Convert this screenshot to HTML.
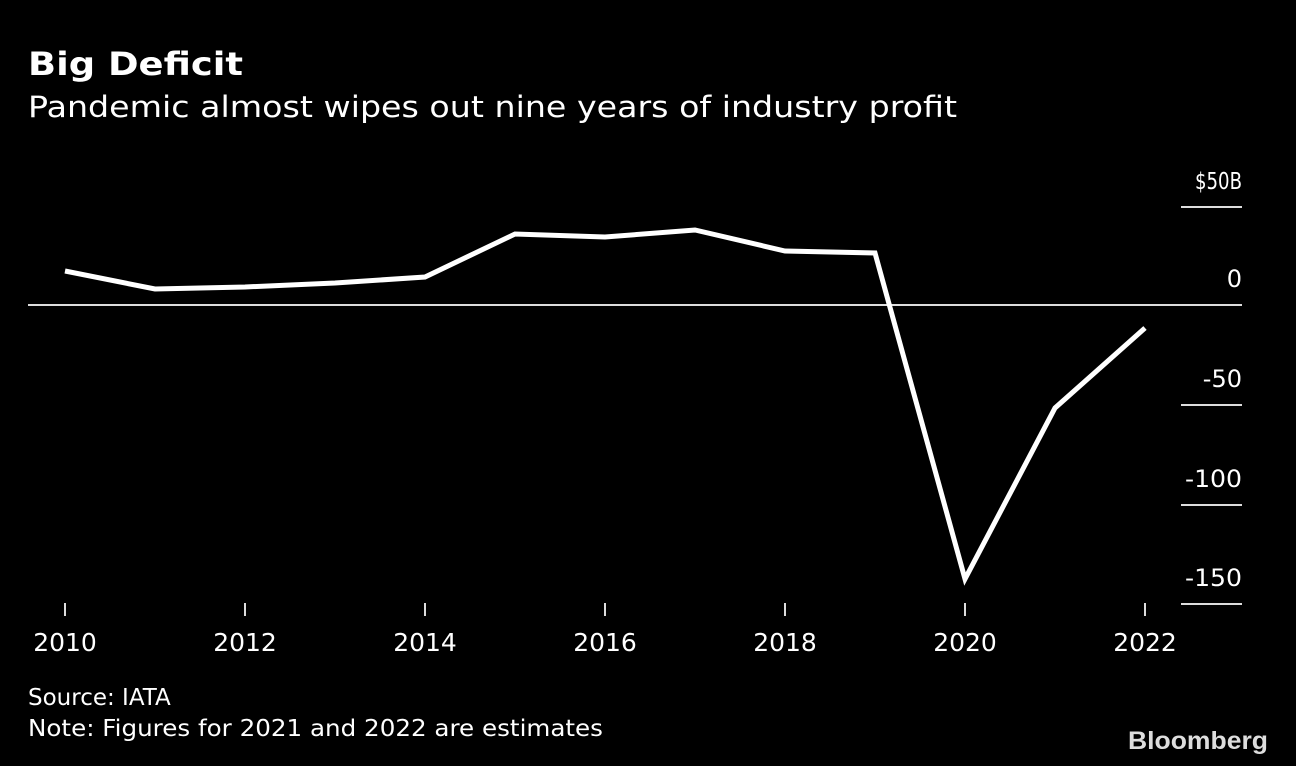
<!DOCTYPE html>
<html><head><meta charset="utf-8"><style>
html,body{margin:0;padding:0;background:#000;width:1296px;height:766px;overflow:hidden}
svg text{font-family:"DejaVu Sans","Liberation Sans",sans-serif;fill:#fff}
</style></head><body>
<svg width="1296" height="766" viewBox="0 0 1296 766" xmlns="http://www.w3.org/2000/svg">
<text x="28" y="75" font-size="32" font-weight="bold" textLength="215" lengthAdjust="spacingAndGlyphs">Big Deficit</text>
<text x="28" y="117" font-size="29" textLength="929" lengthAdjust="spacingAndGlyphs">Pandemic almost wipes out nine years of industry profit</text>
<g stroke="#ddd" stroke-width="2">
<line x1="1181" y1="207" x2="1242" y2="207"/>
<line x1="1181" y1="405" x2="1242" y2="405"/>
<line x1="1181" y1="505" x2="1242" y2="505"/>
<line x1="1181" y1="604" x2="1242" y2="604"/>
<line x1="28" y1="305" x2="1242" y2="305"/>
</g>
<g font-size="24" text-anchor="end" style="fill:#ddd">
<text x="1242" y="189" font-size="23" style="font-family:'DejaVu Sans Condensed','DejaVu Sans',sans-serif" textLength="47" lengthAdjust="spacingAndGlyphs">$50B</text>
<text x="1242" y="287">0</text>
<text x="1242" y="387">-50</text>
<text x="1242" y="487" textLength="57" lengthAdjust="spacingAndGlyphs">-100</text>
<text x="1242" y="586" textLength="57" lengthAdjust="spacingAndGlyphs">-150</text>
</g>
<g stroke="#ddd" stroke-width="2">
<line x1="65" y1="603" x2="65" y2="616"/><line x1="245" y1="603" x2="245" y2="616"/>
<line x1="425" y1="603" x2="425" y2="616"/><line x1="605" y1="603" x2="605" y2="616"/>
<line x1="785" y1="603" x2="785" y2="616"/><line x1="965" y1="603" x2="965" y2="616"/>
<line x1="1145" y1="603" x2="1145" y2="616"/>
</g>
<g font-size="25" text-anchor="middle" style="fill:#ddd">
<text x="65" y="651">2010</text><text x="245" y="651">2012</text><text x="425" y="651">2014</text>
<text x="605" y="651">2016</text><text x="785" y="651">2018</text><text x="965" y="651">2020</text>
<text x="1145" y="651">2022</text>
</g>
<polyline fill="none" stroke="#fff" stroke-width="5" stroke-linejoin="miter" points="65,271 155,289 245,287 335,283 425,277 515,234 605,237 695,230 785,251 875,253 965,579 1055,408 1145,328"/>
<g font-size="23" style="fill:#ccc">
<text x="28" y="705">Source: IATA</text>
<text x="28" y="736" textLength="575" lengthAdjust="spacingAndGlyphs">Note: Figures for 2021 and 2022 are estimates</text>
</g>
<text x="1268" y="749" font-size="25" font-weight="bold" text-anchor="end" textLength="140" lengthAdjust="spacingAndGlyphs" style="fill:#ddd;font-family:'Liberation Sans',sans-serif">Bloomberg</text>
</svg>
</body></html>
